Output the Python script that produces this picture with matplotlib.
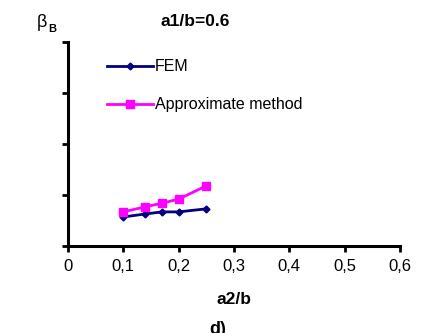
import matplotlib
matplotlib.use('Agg')
import matplotlib.pyplot as plt

plt.rcParams['font.family'] = ['Liberation Sans', 'DejaVu Sans']

# data
a2_b = [0.1, 0.14, 0.17, 0.2, 0.25]
beta_fem = [0.57, 0.63, 0.67, 0.67, 0.73]
beta_approx = [0.67, 0.77, 0.84, 0.92, 1.18]

x_ticks = [0, 0.1, 0.2, 0.3, 0.4, 0.5, 0.6]
x_ticklabels = ['0', '0,1', '0,2', '0,3', '0,4', '0,5', '0,6']
y_ticks = [0, 1, 2, 3, 4]

fig = plt.figure(figsize=(4.30, 3.33), dpi=100)
ax = fig.add_axes([0.158, 0.261, 0.772, 0.613])

ax.plot(a2_b, beta_fem, color='#000080', marker='D', markersize=3.5,
        linewidth=2, label='FEM')
ax.plot(a2_b, beta_approx, color='#FF00FF', marker='s', markersize=5.5,
        linewidth=2, label='Approximate method')

ax.set_xlim(0, 0.6)
ax.set_ylim(0, 4)
ax.set_xticks(x_ticks)
ax.set_xticklabels(x_ticklabels, fontsize=12)
ax.set_yticks(y_ticks)
ax.set_yticklabels([])
ax.tick_params(axis='both', direction='out', length=4, width=2)
ax.tick_params(axis='x', pad=5)

for side in ['top', 'right']:
    ax.spines[side].set_visible(False)
for side in ['left', 'bottom']:
    ax.spines[side].set_linewidth(2.2)

ax.set_xlabel('a2/b', fontsize=12.5, fontweight='bold', labelpad=13)

leg = ax.legend(loc='upper left', bbox_to_anchor=(0.117, 0.915), frameon=False,
                fontsize=11.5, handlelength=2.9, handletextpad=0.13,
                labelspacing=1.45, borderpad=0, borderaxespad=0)

fig.text(0.453, 0.922, 'a1/b=0.6', fontsize=12.5, fontweight='bold',
         ha='center', va='baseline')
fig.text(0.086, 0.932, 'β', fontsize=13, ha='left', va='center')
fig.text(0.112, 0.912, 'B', fontsize=8, fontweight='bold',
         ha='left', va='center')
fig.text(0.507, 0.012, 'd)', fontsize=13, fontweight='bold',
         ha='center', va='center')

fig.savefig('out.png', dpi=100)
